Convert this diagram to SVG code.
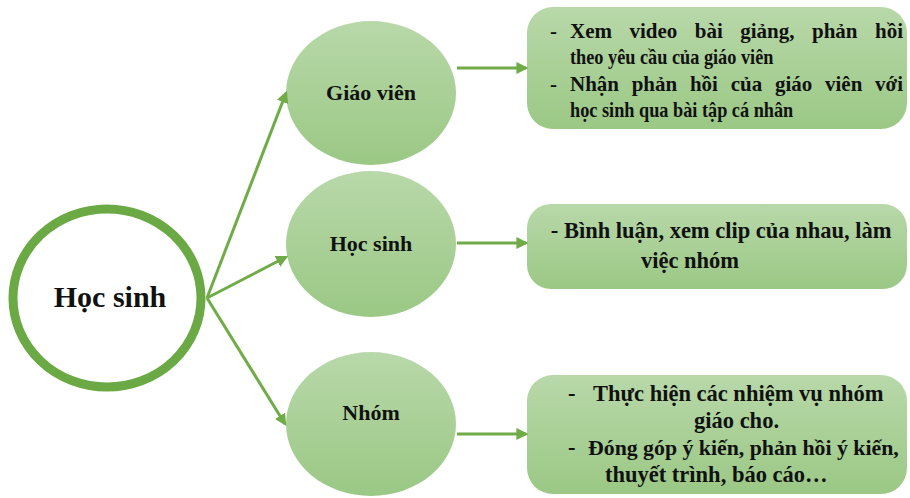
<svg xmlns="http://www.w3.org/2000/svg" width="910" height="498" viewBox="0 0 910 498">
  <defs>
    <linearGradient id="gFill" x1="0" y1="0" x2="0" y2="1">
      <stop offset="0" stop-color="#b8d8a9"/>
      <stop offset="1" stop-color="#9bc885"/>
    </linearGradient>
    <marker id="ah" viewBox="0 0 10 10" refX="8" refY="5" markerWidth="4" markerHeight="4" orient="auto" markerUnits="strokeWidth">
      <path d="M0,0 L10,5 L0,10 z" fill="#6fac47"/>
    </marker>
    <style>
      .node{fill:url(#gFill);}
      .conn line{stroke:#6fac47;stroke-width:3;marker-end:url(#ah);}
    </style>
  </defs>
  <rect width="910" height="498" fill="#fff"/>

  <g font-family="Liberation Serif" font-weight="bold" fill="#111">
  <g id="center">
    <ellipse cx="107" cy="298" rx="94" ry="89" fill="#fff" stroke="#6aa944" stroke-width="9"/>
    <text x="110" y="307" font-size="30" text-anchor="middle">Học sinh</text>
  </g>

  <g id="giaovien">
    <ellipse class="node" cx="371" cy="93" rx="85" ry="72"/>
    <text x="371" y="100" font-size="22" text-anchor="middle">Giáo viên</text>
  </g>
  <g id="hocsinh">
    <ellipse class="node" cx="371" cy="244" rx="85" ry="73"/>
    <text x="371" y="251" font-size="22" text-anchor="middle">Học sinh</text>
  </g>
  <g id="nhom">
    <ellipse class="node" cx="371" cy="424" rx="85" ry="72"/>
    <text x="371" y="420" font-size="22" text-anchor="middle">Nhóm</text>
  </g>

  <g id="box1" font-size="21">
    <rect class="node" x="527" y="7" width="380" height="122" rx="26"/>
    <text x="550" y="38">-</text>
    <text x="570" y="38" word-spacing="12.2" textLength="333" lengthAdjust="spacingAndGlyphs">Xem video bài giảng, phản hồi</text>
    <text transform="translate(570 64) scale(0.87 1)" x="0" y="0">theo yêu cầu của giáo viên</text>
    <text x="550" y="91">-</text>
    <text x="570" y="91" word-spacing="7.6" textLength="333" lengthAdjust="spacingAndGlyphs">Nhận phản hồi của giáo viên với</text>
    <text transform="translate(570 117) scale(0.87 1)" x="0" y="0">học sinh qua bài tập cá nhân</text>
  </g>

  <g id="box2">
    <rect class="node" x="527" y="204" width="380" height="85" rx="24"/>
    <text font-size="22.5" text-anchor="middle">
      <tspan x="724" y="238">- Bình luận, xem clip của nhau, làm</tspan>
      <tspan x="690" y="268">việc nhóm</tspan>
    </text>
  </g>

  <g id="box3" font-size="22.5">
    <rect class="node" x="527" y="375" width="380" height="119" rx="26"/>
    <text x="568" y="401">-</text>
    <text x="593" y="401">Thực hiện các nhiệm vụ nhóm</text>
    <text x="694" y="428">giáo cho.</text>
    <text x="568" y="455">-</text>
    <text x="588" y="455" font-size="21.8">Đóng góp ý kiến, phản hồi ý kiến,</text>
    <text x="605" y="482">thuyết trình, báo cáo…</text>
  </g>
  </g>

  <g id="connectors" class="conn">
    <line x1="207" y1="298" x2="286" y2="93"/>
    <line x1="207" y1="298" x2="286" y2="257"/>
    <line x1="207" y1="298" x2="285" y2="424"/>
    <line x1="457" y1="68" x2="526" y2="68"/>
    <line x1="457" y1="243" x2="526" y2="243"/>
    <line x1="457" y1="434" x2="526" y2="434"/>
  </g>
</svg>
